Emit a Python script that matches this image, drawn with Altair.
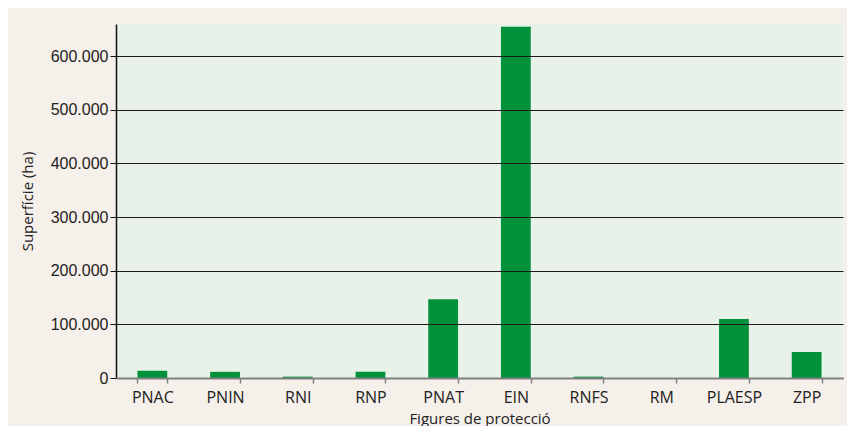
import altair as alt
import pandas as pd

categories = ["PNAC", "PNIN", "RNI", "RNP", "PNAT", "EIN", "RNFS", "RM", "PLAESP", "ZPP"]
values = [13500, 11500, 2500, 11500, 147000, 655000, 2500, 0, 110000, 48500]

df = pd.DataFrame({"cat": categories, "val": values})

bars = alt.Chart(df).mark_bar(color="#00913a").encode(
    x=alt.X(
        "cat:N",
        sort=categories,
        scale=alt.Scale(paddingInner=0.59, paddingOuter=0.295),
        axis=alt.Axis(
            title="Figures de protecció",
            labelAngle=0,
            labelFont="Open Sans",
            labelFontSize=16,
            labelColor="#222222",
            labelPadding=6,
            titleFont="Open Sans",
            titleFontSize=15,
            titleFontWeight="normal",
            titleColor="#222222",
            titlePadding=6,
            domainColor="#808080",
            domainWidth=2,
            tickColor="#808080",
            tickWidth=1.5,
            tickSize=5,
            tickBand="extent",
            zindex=2,
        ),
    ),
    y=alt.Y(
        "val:Q",
        scale=alt.Scale(domain=[0, 660000], nice=False),
        axis=alt.Axis(
            title="Superfície (ha)",
            values=[0, 100000, 200000, 300000, 400000, 500000, 600000],
            labelExpr="replace(format(datum.value, ','), ',', '.')",
            labelFont="Liberation Sans",
            labelFontSize=16,
            labelColor="#222222",
            labelPadding=2,
            titleFont="Open Sans",
            titleFontSize=15,
            titleFontWeight="normal",
            titleColor="#222222",
            titlePadding=15,
            domainColor="#111111",
            domainWidth=1.5,
            tickColor="#111111",
            tickSize=6,
            grid=True,
            gridColor="#1a1a1a",
            gridWidth=1.2,
            zindex=1,
        ),
    ),
)

chart = bars.properties(
    width=727,
    height=354,
    background="#f5f0ea",
    padding={"left": 108, "top": 16, "right": 4, "bottom": 48},
    autosize=alt.AutoSizeParams(type="none"),
).configure_view(
    fill="#e9f2e8",
    stroke=None,
)

chart.save("out.html", embed_options={"renderer": "svg", "actions": False})
